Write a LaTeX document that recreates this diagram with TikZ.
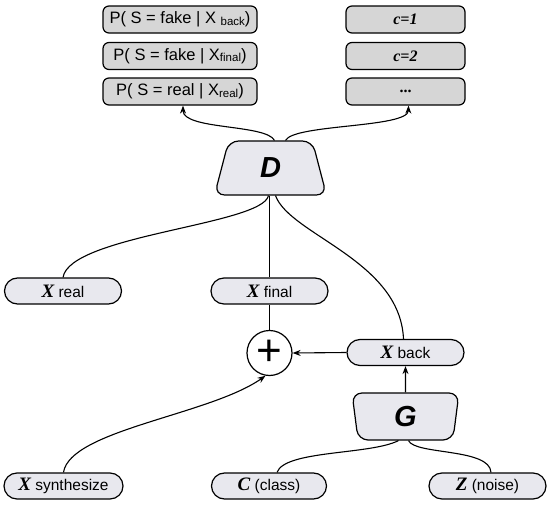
\documentclass[tikz,border=0pt]{standalone}
\usepackage{fontspec}
\setmainfont{Liberation Serif}
\setsansfont{Liberation Sans}
\usetikzlibrary{shapes.geometric,arrows.meta}
\definecolor{topfill}{HTML}{D6D6D6}
\definecolor{nodefill}{HTML}{E8E8EE}
\newcommand{\bigV}[1]{{\rmfamily\bfseries\itshape\fontsize{19}{19}\selectfont #1}}
\newcommand{\subtx}[1]{\raisebox{-1.5pt}{\fontsize{11.5}{12}\selectfont #1}}
\begin{document}
\begin{tikzpicture}[x=1pt,y=-1pt,
 topbox/.style={draw, line width=1.2pt, fill=topfill, rounded corners=6pt, minimum width=154pt, minimum height=27pt, inner sep=0pt, font=\sffamily\fontsize{16.5}{18}\selectfont},
 cbox/.style={topbox, minimum width=119pt, font=\rmfamily\bfseries\itshape\fontsize{16}{17}\selectfont},
 pill/.style={draw, line width=1.2pt, fill=nodefill, rounded corners=13pt, minimum width=117pt, minimum height=26pt, inner sep=0pt, font=\sffamily\fontsize{15.5}{17}\selectfont},
 trap/.style={trapezium, draw, line width=1.2pt, fill=nodefill, trapezium stretches=true, rounded corners=10pt, inner sep=0pt, font=\sffamily\bfseries\itshape\fontsize{29}{30}\selectfont},
 conn/.style={line width=1.1pt},
 arr/.style={conn, -{Stealth[length=8pt,width=6pt]}}
]
\useasboundingbox (0,0) rectangle (550,506);
% top boxes
\node[topbox] (p1) at (180,19.5) {P( S = fake | X \subtx{back})};
\node[topbox] (p2) at (180,56) {P( S = fake | X\subtx{final})};
\node[topbox] (p3) at (180,91.5) {P( S = real | X\subtx{real})};
\node[cbox] (c1) at (405.5,19.5) {c=1};
\node[cbox] (c2) at (405.5,56) {c=2};
\node[cbox, font=\rmfamily\bfseries\fontsize{16}{17}\selectfont] (c3) at (405.5,91.5) {...};
% D and G
\node[trap, trapezium left angle=80, trapezium right angle=80, minimum width=112pt, minimum height=54pt] (D) at (270.5,168) {D};
\node[trap, trapezium left angle=94, trapezium right angle=94, minimum width=107pt, minimum height=47pt] (G) at (405.5,416.5) {G};
% pills
\node[pill] (xr) at (63,291) {\bigV{X} real};
\node[pill] (xf) at (269.5,291) {\bigV{X} final};
\node[pill] (xb) at (405.5,352.5) {\bigV{X} back};
\node[pill, minimum width=119pt] (xs) at (63.5,486) {\bigV{X} synthesize};
\node[pill, minimum width=115pt] (cc) at (269,486) {\bigV{C} (class)};
\node[pill] (zz) at (487.5,486) {\bigV{Z} (noise)};
% plus
\node[draw, circle, line width=1.2pt, fill=white, minimum size=45pt, inner sep=0pt, font=\sffamily\fontsize{44}{44}\selectfont] (plus) at (269.5,353) {+};
% connectors
\draw[arr] ([xshift=4pt]D.north) .. controls (266,124) and (183,130) .. ([xshift=3pt]p3.south);
\draw[arr] ([xshift=15pt]D.north) .. controls (294,124) and (408,128) .. ([xshift=3pt]c3.south);
\draw[conn] ([xshift=-2pt]D.south) .. controls (262,225) and (70,235) .. (xr.north);
\draw[conn] (xf.north |- D.south) -- (xf.north);
\draw[conn] ([xshift=5pt]D.south) .. controls (290,235) and (400,260) .. ([xshift=-2pt]xb.north);
\draw[conn] (xf.south) -- (plus.north);
\draw[arr] (xb.west) -- (plus.east);
\draw[arr] (G.north) -- (xb.south);
\draw[arr] (xs.north) .. controls (70,430) and (210,415) .. (plus.-100);
\draw[conn] ([xshift=8pt]cc.north) .. controls (285,450) and (370,455) .. ([xshift=-7pt]G.south);
\draw[conn] ([xshift=3pt]G.south) .. controls (415,455) and (490,448) .. ([xshift=3.5pt]zz.north);
\end{tikzpicture}
\end{document}
